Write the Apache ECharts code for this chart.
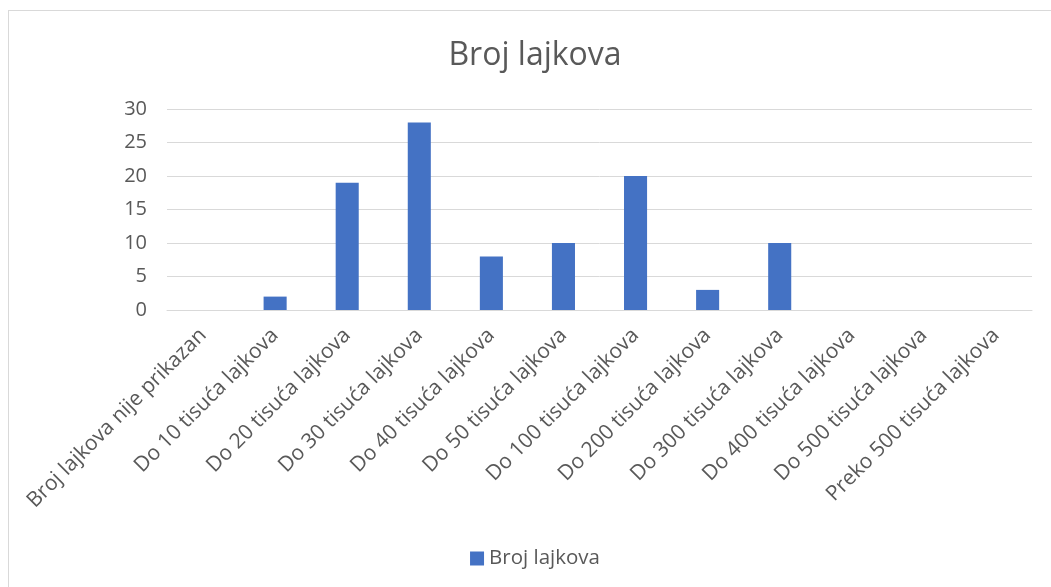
<!DOCTYPE html>
<html><head><meta charset="utf-8">
<script src="https://cdn.jsdelivr.net/npm/echarts@6/dist/echarts.min.js"></script>
<style>
html,body{margin:0;padding:0;background:#fff;overflow:hidden;}
#frame{position:absolute;left:8px;top:10px;width:1100px;height:640px;border:1px solid #d9d9d9;box-sizing:border-box;}
#c{position:absolute;left:0;top:0;width:1070px;height:587px;}
</style></head>
<body>
<div id="frame"></div>
<div id="c"></div>
<script>
const categories = ["Broj lajkova nije prikazan","Do 10 tisuća lajkova","Do 20 tisuća lajkova","Do 30 tisuća lajkova","Do 40 tisuća lajkova","Do 50 tisuća lajkova","Do 100 tisuća lajkova","Do 200 tisuća lajkova","Do 300 tisuća lajkova","Do 400 tisuća lajkova","Do 500 tisuća lajkova","Preko 500 tisuća lajkova"];
const values = [0, 2, 19, 28, 8, 10, 20, 3, 10, 0, 0, 0];
const seriesName = "Broj lajkova";
const chartTitle = "Broj lajkova";

const chart = echarts.init(document.getElementById('c'), null, {renderer:'canvas'});
const font = "'Open Sans', 'Noto Sans', sans-serif";
chart.setOption({
  animation:false,
  backgroundColor:'transparent',
  title:{text:chartTitle,left:'center',top:35,textStyle:{fontFamily:font,fontSize:32,fontWeight:'normal',color:'#595959'}},
  legend:{bottom:13,left:'center',itemWidth:14,itemHeight:14,icon:'rect',itemGap:8,textStyle:{fontFamily:font,fontSize:20.5,color:'#595959'},data:[seriesName]},
  grid:{left:167,right:38,top:109,bottom:277,containLabel:false},
  xAxis:{type:'category',data:categories,
    axisLine:{lineStyle:{color:'#d9d9d9',width:1}},axisTick:{show:false},
    axisLabel:{rotate:45,interval:0,fontFamily:font,fontSize:21,color:'#595959',margin:22}},
  yAxis:{type:'value',min:0,max:30,interval:5,
    axisLine:{show:false},axisTick:{show:false},
    splitLine:{lineStyle:{color:'#d9d9d9',width:1}},
    axisLabel:{fontFamily:font,fontSize:20,color:'#595959',margin:20}},
  series:[{name:seriesName,type:'bar',data:values,barWidth:'32%',itemStyle:{color:'#4472C4'}}]
});
</script>
</body></html>
